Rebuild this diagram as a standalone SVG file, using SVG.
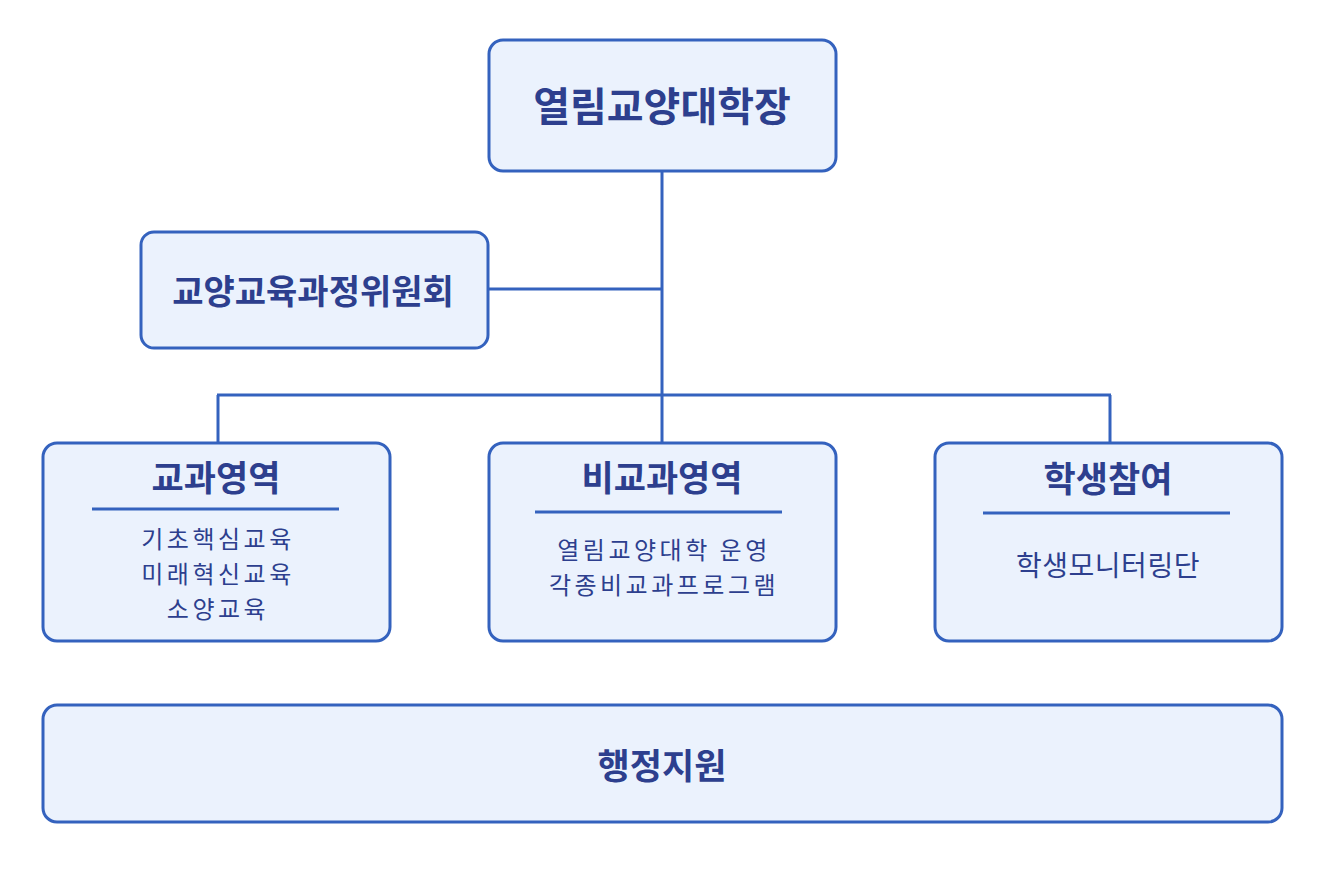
<svg xmlns="http://www.w3.org/2000/svg" width="1336" height="880" viewBox="0 0 1336 880">
<style>
.box{fill:#EBF2FD;stroke:#3462BE;stroke-width:3}
.ln{stroke:#3462BE;stroke-width:3;fill:none}
text{font-family:"Noto Sans CJK KR","Noto Sans",sans-serif;fill:#2D3F8E;text-anchor:middle;dominant-baseline:central}
.b{font-weight:700}
.t1{font-size:40px}
.t2{font-size:34px}
.t4{font-size:35px}
.t3{font-size:24px;letter-spacing:3.5px}
.t5{font-size:28px;letter-spacing:0.5px}
</style>
<rect width="1336" height="880" fill="#FFFFFF"/>
<g id="connectors">
<line class="ln" x1="662" y1="171" x2="662" y2="442"/>
<line class="ln" x1="488" y1="289" x2="662" y2="289"/>
<line class="ln" x1="217" y1="395" x2="1111" y2="395"/>
<line class="ln" x1="218" y1="395" x2="218" y2="442"/>
<line class="ln" x1="1110" y1="395" x2="1110" y2="442"/>
</g>
<g id="dean">
<rect class="box" x="489" y="40" width="347" height="131" rx="14"/>
<text class="b t1" x="662" y="104">열림교양대학장</text>
</g>
<g id="committee">
<rect class="box" x="141" y="232" width="347" height="116" rx="13"/>
<text class="b t2" x="313" y="289">교양교육과정위원회</text>
</g>
<g id="curricular">
<rect class="box" x="43" y="443" width="347" height="198" rx="14"/>
<text class="b t4" x="216" y="475">교과영역</text>
<line class="ln" x1="92" y1="509" x2="339" y2="509"/>
<text class="t3" x="218" y="537">기초핵심교육</text>
<text class="t3" x="218" y="572">미래혁신교육</text>
<text class="t3" x="218" y="607">소양교육</text>
</g>
<g id="extracurricular">
<rect class="box" x="489" y="443" width="347" height="198" rx="14"/>
<text class="b t4" x="662" y="475">비교과영역</text>
<line class="ln" x1="535" y1="512" x2="782" y2="512"/>
<text class="t3" x="664" y="548">열림교양대학 운영</text>
<text class="t3" x="664" y="583">각종비교과프로그램</text>
</g>
<g id="student">
<rect class="box" x="935" y="443" width="347" height="198" rx="14"/>
<text class="b t4" x="1108" y="476">학생참여</text>
<line class="ln" x1="983" y1="513" x2="1230" y2="513"/>
<text class="t5" x="1108" y="564">학생모니터링단</text>
</g>
<g id="admin">
<rect class="box" x="43" y="705" width="1239" height="117" rx="14"/>
<text class="b t4" x="662" y="763">행정지원</text>
</g>
</svg>
